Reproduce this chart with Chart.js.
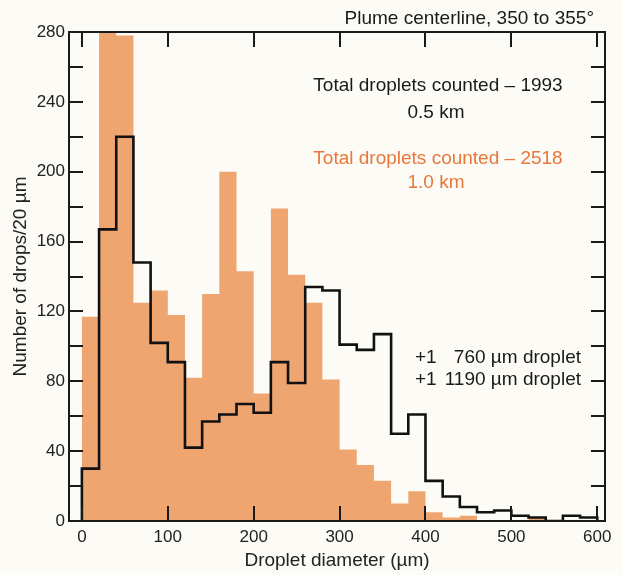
<!DOCTYPE html>
<html>
<head>
<meta charset="utf-8">
<script src="https://cdn.jsdelivr.net/npm/chart.js@4.4.0/dist/chart.umd.min.js"></script>
<style>
html,body{margin:0;padding:0;background:#fcfbf6;}
#wrap{width:623px;height:575px;position:relative;}
</style>
</head>
<body>
<div id="wrap"><canvas id="c" width="623" height="575"></canvas></div>
<script>
// ---- data (bins of 20 µm, left edges) ----
const binStarts = [0,20,40,60,80,100,120,140,160,180,200,220,240,260,280,300,320,340,360,380,400,420,440,460,480,500,520,540,560,580];
const binWidth = 20;
// 1.0 km (orange filled histogram)
const counts1km = [117,280,278,125,132,118,82,130,200,143,73,179,141,125,81,41,32,23,10,17,5,2,3,0,0,0,2,0,0,0];
// 0.5 km (black outline histogram)
const counts05km = [30,167,220,148,102,91,42,57,61,67,62,91,79,134,132,101,98,107,50,61,23,14,8,5,6,3,2,0,3,2];
const xTickValues = [0,100,200,300,400,500,600];
const yTickValues = [0,40,80,120,160,200,240,280];
const yMinorTicks = [0,20,40,60,80,100,120,140,160,180,200,220,240,260,280];

const FONT = "'Liberation Sans', Arial, Helvetica, sans-serif";
const ORANGE_FILL = 'rgb(239,165,112)';
const ORANGE_TEXT = 'rgb(233,118,58)';
const INK = '#1a1a1a';

function stepPoints(counts){
  const pts = [{x: binStarts[0], y: 0}];
  counts.forEach((c,i) => pts.push({x: binStarts[i], y: c}));
  pts.push({x: binStarts[binStarts.length-1] + binWidth, y: 0});
  return pts;
}

const framePlugin = {
  id: 'frameTicks',
  afterDatasetsDraw(chart){
    const {ctx, chartArea:a, scales:{x, y}} = chart;
    ctx.save();
    ctx.strokeStyle = INK;
    ctx.lineWidth = 2;
    ctx.lineCap = 'butt';
    ctx.strokeRect(a.left, a.top, a.right - a.left, a.bottom - a.top);
    ctx.beginPath();
    yMinorTicks.forEach(v => {
      const py = Math.round(y.getPixelForValue(v));
      ctx.moveTo(a.left, py); ctx.lineTo(a.left + 14, py);
      ctx.moveTo(a.right, py); ctx.lineTo(a.right - 14, py);
    });
    xTickValues.forEach(v => {
      const px = Math.round(x.getPixelForValue(v));
      ctx.moveTo(px, a.bottom); ctx.lineTo(px, a.bottom - 15);
      ctx.moveTo(px, a.top); ctx.lineTo(px, a.top + 15);
    });
    ctx.stroke();
    ctx.restore();
  },
  afterDraw(chart){
    const {ctx} = chart;
    ctx.save();
    ctx.font = '19px ' + FONT;
    ctx.textBaseline = 'alphabetic';
    ctx.fillStyle = INK;
    ctx.textAlign = 'right';
    ctx.fillText('Plume centerline, 350 to 355°', 594, 24);
    ctx.textAlign = 'center';
    ctx.fillText('Total droplets counted \u2013 1993', 438, 91);
    ctx.fillText('0.5 km', 436, 118);
    ctx.fillStyle = ORANGE_TEXT;
    ctx.fillText('Total droplets counted \u2013 2518', 438, 164);
    ctx.fillText('1.0 km', 436, 188);
    ctx.fillStyle = INK;
    ctx.textAlign = 'left';
    ctx.fillText('+1', 415, 363);
    ctx.fillText('+1', 415, 385);
    ctx.textAlign = 'right';
    ctx.fillText('760 \u00b5m droplet', 581, 363);
    ctx.fillText('1190 \u00b5m droplet', 581, 385);
    ctx.restore();
  }
};

new Chart(document.getElementById('c'), {
  type: 'line',
  data: {
    datasets: [
      {
        label: '1.0 km',
        data: stepPoints(counts1km),
        stepped: 'before',
        fill: 'origin',
        backgroundColor: ORANGE_FILL,
        borderColor: 'rgba(0,0,0,0)',
        borderWidth: 0,
        pointRadius: 0,
        order: 2
      },
      {
        label: '0.5 km',
        data: stepPoints(counts05km),
        stepped: 'before',
        fill: false,
        borderColor: '#111',
        borderWidth: 2.6,
        borderJoinStyle: 'miter',
        borderCapStyle: 'butt',
        pointRadius: 0,
        order: 1
      }
    ]
  },
  options: {
    responsive: false,
    animation: false,
    events: [],
    layout: { padding: { left: 0, right: 18, top: 32, bottom: 0 } },
    plugins: { legend: { display: false }, tooltip: { enabled: false }, title: { display: false } },
    scales: {
      x: {
        type: 'linear',
        min: -15, max: 609,
        afterBuildTicks: s => { s.ticks = xTickValues.map(v => ({value: v})); },
        afterFit: s => { s.height = 54; },
        grid: { display: false, drawTicks: false },
        border: { display: false },
        ticks: { color: '#222', font: { family: FONT, size: 17 }, padding: 6, maxRotation: 0, autoSkip: false },
        title: { display: true, text: 'Droplet diameter (\u00b5m)', color: '#222', font: { family: FONT, size: 19 }, padding: { top: 0, bottom: 3 } }
      },
      y: {
        min: 0, max: 280,
        afterBuildTicks: s => { s.ticks = yTickValues.map(v => ({value: v})); },
        afterFit: s => { s.width = 69; },
        grid: { display: false, drawTicks: false },
        border: { display: false },
        ticks: { color: '#222', font: { family: FONT, size: 17 }, padding: 4 },
        title: { display: true, text: 'Number of drops/20 \u00b5m', color: '#222', font: { family: FONT, size: 19 }, padding: { top: 9, bottom: 0 } }
      }
    }
  },
  plugins: [framePlugin]
});
</script>
</body>
</html>
